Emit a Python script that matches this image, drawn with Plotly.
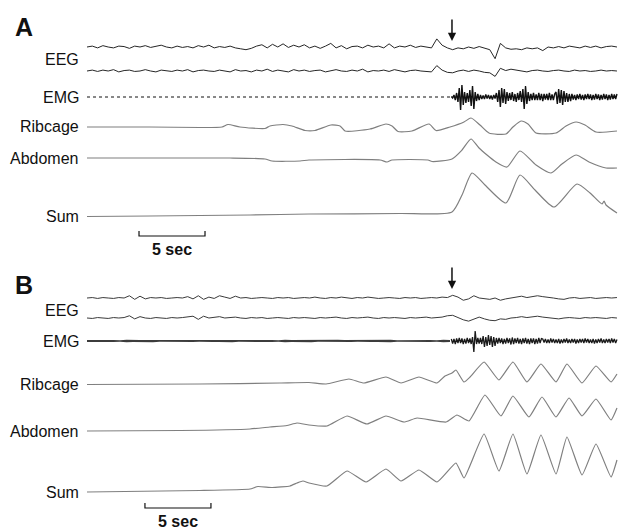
import numpy as np
import plotly.graph_objects as go

# ---------------- DATA (amplitudes in arbitrary units, positive = up; time in seconds) ----------------
T_END = 40.15

# Panel A EEG (sampled uniformly over 0..T_END)
eeg_a1 = [0, 1, -1, 1.5, 0, -1, 1, 0.5, -1.5, 1,
          0, 1.5, -0.5, 1, 2, 0, -1, 1, -0.5, 0.5,
          -1, 1.5, 0, 2, -1, 0.5, -0.5, 1, -1, -2,
          -3, -1.5, 1, 2.5, -1, 3, 0, 3.5, -0.5, 2,
          0, 2.5, -1, 1, -1.5, 1, 4, -1, 1.5, -2,
          0.5, 1, -1, 2, 0, 1, -1, 3.5, -1, 1,
          0, 2, -0.5, 1, 0, -1, 9, 2, -1, -3,
          -1, -2, 0, -1.5, 0.5, -1, -3, -13, 4, -1,
          -2.5, -2, -3, -1, -2, -1, -4, 0, -1, 0.5,
          -1, 1, 0, -1, 1, -0.5, 1, -1, 0.5, 1, 0]
eeg_a2 = [0, 1, -0.5, 1, 0, 1.5, -1, 0.5, 1, -0.5,
          0, 1.5, 0, -1, 1, 0.5, -0.5, 1, 0, 1.5,
          -1, 0.5, 1, 0, -0.5, 1, 0, -1, 1.5, 0,
          0.5, -1, 1, 0, 2, -0.5, 1, 0, -1, 1.5,
          0, 1, -0.5, 0.5, 1, -1, 0, 1.5, 0, -0.5,
          1, 0, 2, -1, 0.5, 0, 1, -0.5, 1.5, 0,
          -1, 0.5, 1, 0, -0.5, -1, 6, 1, -1.5, -2,
          0, 1, -0.5, 1, 0, -1.5, -2, -6, 3, 0.5,
          2, 1, 0, -1, 0.5, 1, 0, -0.5, 0.5, 1,
          0, -0.5, 1, 0, 0.5, -0.5, 0, 1, 0, 0.5, 0]

# Panel A EMG: signed samples every 0.1 s after arousal onset (flat before)
emg_a_t0 = 27.6
emg_a = [0.5, -1,
         2, -3, 4, -5,
         9, -13, 12, -8,
         5, -6, 4, -5,
         7, -9, 11, -12,
         5, -4, 3, -3,
         2, -2, 1.5, -2, 2.5, -1.5, 2, -2, 1.5, -2.5, 2, -1.5,
         4, -5, 7, -10, 9, -6, 8, -7, 5, -4,
         4, -3, 5, -4, 3, -5, 4, -3, 6, -5,
         8, -12, 11, -7, 5,
         -4, 3, -3, 4, -3, 2.5, -3, 4, -3, 3, -4, 3, -2.5, 3, -3, 4, -3, 2.5, -3, 3,
         5, -7, 8, -6, 7, -8, 6, -5, 4, -5, 3, -4,
         3, -2.5, 2, -3, 2.5, -2, 3, -2.5, 2, -3, 2.5, -2, 3, -2, 2.5, -3, 2, -2.5, 3, -2,
         2.5, -3, 2, -2.5, 3, -2, 2.5, -3, 2, -2.5, 3, -2, 2.5, -2, 3]

# Panel A breathing traces (breakpoints)
rib_a_t = [0, 4.77, 8.56, 10.23, 10.68, 11.59, 13.48, 13.86, 14.85, 15.53, 16.52, 17.27, 18.48,
           19.17, 19.55, 21.44, 22.65, 23.11, 23.56, 24.62, 25.91, 26.44, 27.5, 28.56, 29.09,
           29.77, 30.45, 31.74, 32.27, 32.88, 33.41, 34.02, 35.53, 36.29, 37.05, 37.73, 38.56, 40.15]
rib_a_v = [0, 0, -0.5, 0, 2.5, 0, -1.5, 1, 2.5, 1, -3.5, -3.5, 2,
           1, -4, -2, 3, 1, -4.5, -4, 3, -3.5, 0, 5, 9,
           2, -6, -7, 0, 6, 3, -6, -6, 1, 5, 2, -5, -4]
abd_a_t = [0, 10.83, 13.48, 14.02, 16.14, 16.82, 22.2, 22.73, 23.11, 25.83, 26.14, 27.65, 28.41,
           29.09, 29.7, 30.98, 31.82, 32.8, 34.02, 35.15, 35.98, 37.05, 38.03, 39.32, 40.15]
abd_a_v = [0, 0, -1, -3, -3, -2, -2, -4, -2, -2, -3.5, -1, 8,
           19, 10, -4, -9, 7, -7, -15, -6, 3, -4, -10, -10]
sum_a_t = [0, 4.77, 8.56, 12.35, 16.82, 23.71, 27.65, 28.41, 29.17, 30.15, 31.74, 32.8, 33.94,
           35.38, 37.12, 38.11, 39.02, 39.17, 39.32, 40.15]
sum_a_v = [-1.5, -1, -0.5, 0, 1, 1.5, 3, 20, 42, 30, 12, 40, 25,
           8, 31, 22, 11, 14, 10, 2]

# Panel B EEG
eeg_b1 = [0, 0.5, -0.5, 0.5, 0, -0.5, 0.5, 0, 2.5, -1.5,
          2, -1, 0.5, 0, 0.5, -0.5, 0, 0.5, 0, 1.5,
          -1, 2.5, -1.5, 1, -0.5, 2.5, 1, -0.5, 2, 0,
          0.5, -0.5, 0, 0.5, 0, -0.5, 0.5, 0, 0.5, -0.5,
          0, 0.5, 0, 1, 0, -0.5, 0.5, 0, 1, 0,
          -0.5, 0.5, 0, 1, 0.5, -0.5, 0, 0.5, 0, -0.5,
          0.5, 0, 0.5, -0.5, 0, 0.5, 0, 1, 0.5, 3,
          1, -2.5, -1, 2.5, 0, -1, -1.5, 0, -2.5, -1,
          0, 1.5, 2, 0.5, 1.5, 2.5, 1.5, 1, 0, -1,
          -1.5, 0, 0.5, -0.5, 0, 0.5, -0.5, 0, 0.5, 0, 0.5]
eeg_b2 = [0, -0.5, 0.5, 0, -0.5, 0.5, 0, 0.5, 2.5, -1,
          1.5, 0, -0.5, 0.5, 0, -0.5, 0.5, 0, 0.5, 1,
          2, -1.5, 2, 0, 1, 1.5, 0, 0.5, 1, 0,
          -0.5, 0.5, 0, 0.5, -0.5, 0, 0.5, 0, -0.5, 0.5,
          0, 0.5, 0, -0.5, 0.5, 0, 0.5, 1, 0, -0.5,
          0.5, 0, 0.5, 1, 0, -0.5, 0.5, 0, 0.5, 0,
          -0.5, 0.5, 0, 0.5, 1, 0, 0.5, 1, 2.5, 3,
          0.5, -2, -3.5, -1, 1, -1, -2.5, -3, -1, -1.5,
          0, 0.5, 1.5, 0.5, 1, 2, 1, 0.5, -0.5, -1,
          0, 0.5, 0, -0.5, 0.5, 0, 0.5, 0, -0.5, 0.5, 0]

# Panel B EMG: background envelope (0.5 s grid) then signed samples every 0.1 s after arousal
emg_b_pre = [1.0, 0.8, 1.2, 0.9, 1.1, 0.8, 1.3, 0.9, 1.0, 0.9,
             1.2, 0.8, 1.1, 0.9, 1.2, 0.9, 1.0, 0.8, 1.2, 0.9,
             1.1, 0.9, 1.3, 0.8, 1.0, 0.9, 1.2, 0.9, 1.1, 0.8,
             1.3, 0.9, 1.0, 0.9, 1.2, 0.8, 1.1, 0.9, 1.3, 0.9,
             1.0, 0.8, 1.2, 0.9, 1.1, 0.9, 1.3, 0.8, 1.0, 0.9,
             1.2, 0.9, 1.1, 0.8, 1.3, 1.0]
emg_b_post = [2, -2.5, 2, -3, 2.5, -2, 3, -2, 2.5, -3, 2, -2.5, 3, -2, 2.5, -3, 4,
              -11, 10,
              -3, 3, -2.5, 3, -3,
              5, -6, 4, -5, 6, -4, 5, -6, 4, -5, 3,
              -2.5, 3, -2, 2.5, -3, 2, -2.5, 3, -2, 2.5,
              -3.5, 3.5, -3, 2.5, -2, 3, -2.5, 2, -3, 2.5,
              -2, 3, -2.5, 2, -3, 2.5, -2, 2.5, -3, 2,
              -2.5, 3, -2, 2.5,
              2, -1.5, 2, -2, 1.5, -2, 2.5, -1.5, 2, -2,
              1.5, -2, 2, -2.5, 1.5, -2, 2, -1.5, 2.5, -2,
              1.5, -2, 2, -1.5, 2, -2.5, 1.5, -2, 2, -1.5,
              2, -2, 2.5, -1.5, 2, -2, 1.5, -2, 2, -2.5,
              1.5, -2, 2, -1.5, 2.5, -2, 1.5, -2, 2, -1.5,
              2, -2, 2.5, -1.5, 2, -2, 1.5]

# Panel B breathing traces
rib_b_t = [0, 8.56, 14.62, 16.82, 18.11, 19.85, 20.98, 22.65, 23.79, 25.15, 26.52, 27.12, 27.65,
           27.95, 28.56, 29.02, 30.08, 31.21, 32.27, 33.33, 34.39, 35.53, 36.36, 37.5, 38.56,
           39.7, 40.15]
rib_b_v = [-0.5, 0, 1, 1.5, 0, 5, 1, 7, 1, 7, 1, 8, 11,
           14, 2, 7, 22, 4, 22, 2, 20, 2, 20, 1, 18,
           2, 10]
abd_b_t = [0, 7.05, 12.35, 13.86, 15.15, 15.91, 16.82, 18.18, 19.7, 21.21, 22.65, 24.02, 25,
           27.2, 28.03, 28.94, 30.15, 31.36, 32.27, 33.48, 34.47, 35.53, 36.52, 37.5, 38.56,
           39.7, 40.15]
abd_b_v = [0, 0.5, 2, 4, 5.5, 8, 6, 5, 15, 7, 15, 9, 13,
           9, 16, 10, 36, 15, 35, 14, 34, 14, 33, 15, 32,
           11, 23]
sum_b_t = [0, 8.56, 12.35, 12.95, 14.02, 15.38, 15.91, 16.36, 16.82, 18.18, 19.7, 21.14, 22.65,
           23.79, 25.15, 26.52, 27.95, 28.56, 30.08, 31.21, 32.27, 33.33, 34.39, 35.53, 36.36,
           37.5, 38.56, 39.7, 40.15]
sum_b_v = [0, 1.5, 3, 5.5, 4.5, 6, 9, 11, 9, 6, 21, 10, 23,
           11, 22, 10, 29, 14, 58, 21, 58, 18, 57, 18, 55,
           17, 48, 15, 32]

channel_labels = ["EEG", "EMG", "Ribcage", "Abdomen", "Sum"]
arousal_time = 27.65
scale_len = 5  # seconds

# ---------------- LAYOUT ----------------
W, H = 618, 531
PX_PER_S = 13.2
X0 = 87
EEG_GAIN = 0.9
base_a = dict(eeg1=47, eeg2=71, emg=97, rib=127, abd=158, sum=215)
base_b = dict(eeg1=298, eeg2=318, emg=341, rib=384, abd=431, sum=492)
label_y_a = [59.5, 97, 126, 158, 216.5]
label_y_b = [310, 341, 384, 431.5, 492]

EEG_COL_A = "#262626"
EEG_COL_B = "#3a3a3a"
RESP_COL = "#7f7f7f"

fig = go.Figure()


def add_line(t, v, base, color, width, shape="linear", smooth=None, dash=None, gain=1.0):
    line = dict(color=color, width=width, shape=shape)
    if smooth is not None:
        line["smoothing"] = smooth
    if dash:
        line["dash"] = dash
    fig.add_trace(go.Scatter(x=list(t), y=[base - gain * a for a in v], mode="lines",
                             line=line, hoverinfo="skip", showlegend=False))


def add_band(t, amp, base, color):
    t = np.asarray(t, dtype=float)
    amp = np.asarray(amp, dtype=float)
    xs = np.concatenate([t, t[::-1]])
    ys = np.concatenate([base - amp, (base + amp)[::-1]])
    fig.add_trace(go.Scatter(x=xs, y=ys, mode="lines", fill="toself", fillcolor=color,
                             line=dict(color=color, width=0), hoverinfo="skip",
                             showlegend=False))


def uniform_t(vals, t0=0.0, t1=T_END):
    return np.linspace(t0, t1, len(vals))


# Panel A
add_line(uniform_t(eeg_a1), eeg_a1, base_a["eeg1"], EEG_COL_A, 1.0, gain=EEG_GAIN)
add_line(uniform_t(eeg_a2), eeg_a2, base_a["eeg2"], EEG_COL_A, 1.0, gain=EEG_GAIN)
add_line([0, emg_a_t0], [0, 0], base_a["emg"], "#111111", 1, dash="dot")
add_line(uniform_t(emg_a, emg_a_t0), emg_a, base_a["emg"], "#111111", 1.4)
add_line(rib_a_t, rib_a_v, base_a["rib"], RESP_COL, 1.2, "spline", 0.6)
add_line(abd_a_t, abd_a_v, base_a["abd"], RESP_COL, 1.2, "spline", 0.6)
add_line(sum_a_t, sum_a_v, base_a["sum"], RESP_COL, 1.2, "spline", 0.6)

# Panel B
add_line(uniform_t(eeg_b1), eeg_b1, base_b["eeg1"], EEG_COL_B, 1.0, gain=EEG_GAIN)
add_line(uniform_t(eeg_b2), eeg_b2, base_b["eeg2"], EEG_COL_B, 1.0, gain=EEG_GAIN)
add_band(np.linspace(0, 27.5, len(emg_b_pre)), emg_b_pre, base_b["emg"], "#3c3c3c")
add_line(uniform_t(emg_b_post, 27.6), emg_b_post, base_b["emg"], "#1a1a1a", 1.3)
add_line(rib_b_t, rib_b_v, base_b["rib"], RESP_COL, 1.2, "spline", 0.4)
add_line(abd_b_t, abd_b_v, base_b["abd"], RESP_COL, 1.2, "spline", 0.4)
add_line(sum_b_t, sum_b_v, base_b["sum"], RESP_COL, 1.2, "spline", 0.4)

# Scale bars
for t0, yb in [(3.94, 236), (4.39, 508)]:
    fig.add_trace(go.Scatter(x=[t0, t0, t0 + scale_len, t0 + scale_len],
                             y=[yb - 5, yb, yb, yb - 5], mode="lines",
                             line=dict(color="#111111", width=1.2),
                             hoverinfo="skip", showlegend=False))

ann = []
FONT = "Liberation Sans, Arial, sans-serif"
lab_x = (81 - X0) / PX_PER_S
for labels_y in (label_y_a, label_y_b):
    for name, yy in zip(channel_labels, labels_y):
        ann.append(dict(x=lab_x, y=yy, xref="x", yref="y", text=name, showarrow=False,
                        xanchor="right", yanchor="middle",
                        font=dict(family=FONT, size=16, color="#111111")))
for txt, yy in [("A", 27), ("B", 285)]:
    ann.append(dict(x=(13 - X0) / PX_PER_S, y=yy, xref="x", yref="y", text="<b>%s</b>" % txt,
                    showarrow=False, xanchor="left", yanchor="middle",
                    font=dict(family=FONT, size=25, color="#111111")))
for t0, yy in [(3.94, 249), (4.39, 521)]:
    ann.append(dict(x=t0 + scale_len / 2, y=yy, xref="x", yref="y", text="<b>5 sec</b>",
                    showarrow=False, xanchor="center", yanchor="middle",
                    font=dict(family=FONT, size=16, color="#111111")))
# Arousal arrows
for y_tip in (41, 289):
    ann.append(dict(x=arousal_time, y=y_tip, xref="x", yref="y", text="", showarrow=True,
                    arrowhead=2, arrowsize=1.1, arrowwidth=1.5, arrowcolor="#111111",
                    ax=0, ay=-23))

fig.update_layout(
    width=W, height=H,
    margin=dict(l=0, r=0, t=0, b=0),
    paper_bgcolor="white", plot_bgcolor="white",
    xaxis=dict(range=[-X0 / PX_PER_S, (W - X0) / PX_PER_S], visible=False, fixedrange=True),
    yaxis=dict(range=[H, 0], visible=False, fixedrange=True),
    annotations=ann,
    showlegend=False,
)

fig.write_html("out.html", config={"displayModeBar": False},
               post_script="document.body.style.margin='0';document.body.style.overflow='hidden';")
